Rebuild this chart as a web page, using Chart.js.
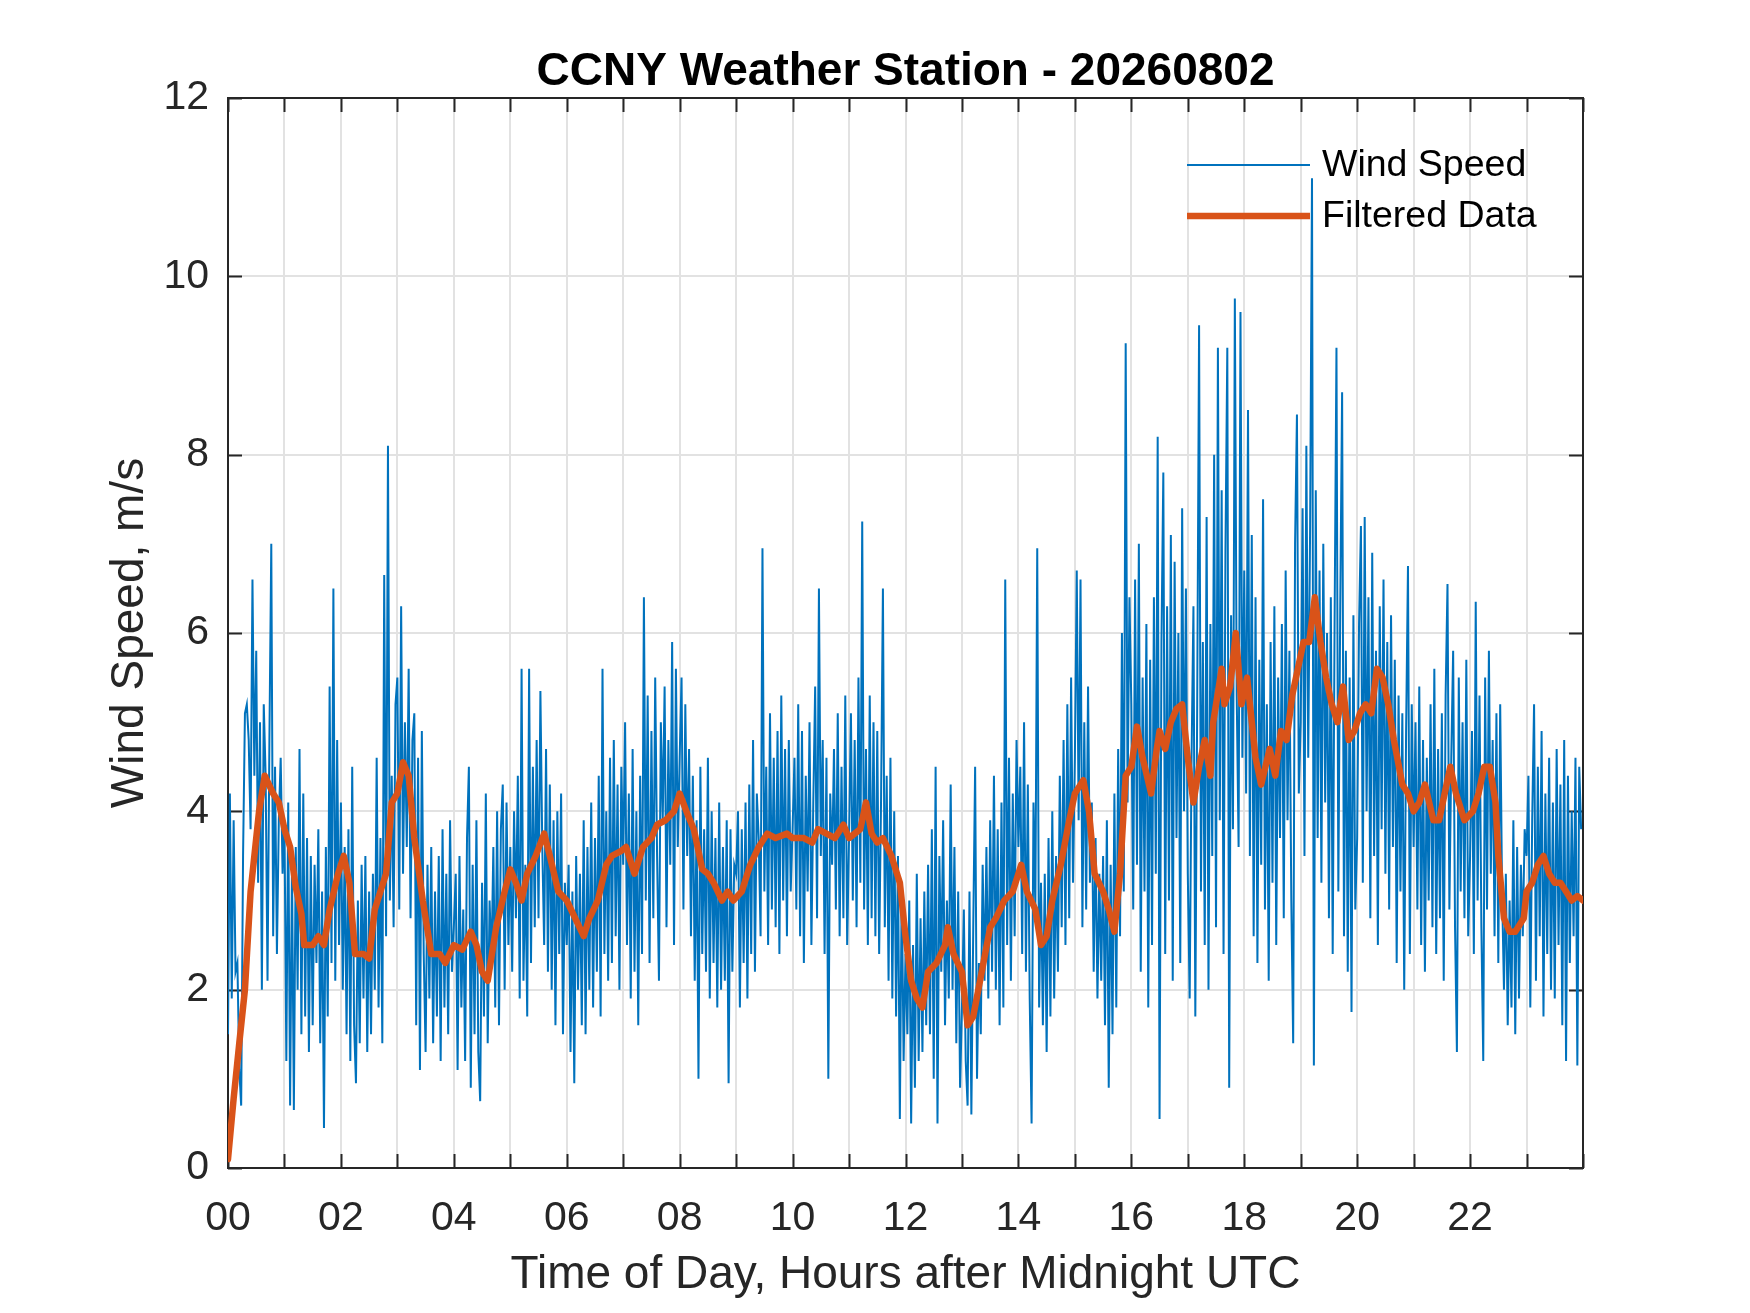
<!DOCTYPE html>
<html>
<head>
<meta charset="utf-8">
<script src="https://cdn.jsdelivr.net/npm/chart.js@4.4.1/dist/chart.umd.min.js"></script>
<style>
  html, body { margin: 0; padding: 0; background: #ffffff; }
  #wrap { width: 1750px; height: 1313px; }
</style>
</head>
<body>
<div id="wrap"><canvas id="c" width="1750" height="1313"></canvas></div>
<script>
// ---------------- DATA ----------------
const chartTitle = "CCNY Weather Station - 20260802";
const xAxisTitle = "Time of Day, Hours after Midnight UTC";
const yAxisTitle = "Wind Speed, m/s";
const seriesNames = ["Wind Speed", "Filtered Data"];
const xTickLabels = ["00","02","04","06","08","10","12","14","16","18","20","22"];
const yTickValues = [0, 2, 4, 6, 8, 10, 12];
const sampleStepMinutes = 2;

// two-minute wind speed samples (m/s), one block (30 samples) per hour
const windSpeed = [
// 00
1.5,4.2,1.9,3.9,2.2,2.3,1.1,0.7,3.5,5.1, 5.2,4.8,3.8,6.6,4.4,5.8,3.2,5.0,2.0,5.2, 4.4,2.1,4.8,7.0,2.6,4.5,2.4,3.9,4.6,3.3,
// 01
3.9,1.2,4.1,0.7,3.4,0.65,3.6,2.0,4.7,1.5, 4.2,1.7,3.7,1.3,3.5,1.6,3.4,2.3,3.8,1.4, 3.1,0.45,3.6,1.7,5.4,2.3,6.5,2.1,4.8,2.5,
// 02
4.1,2.0,3.6,1.5,3.8,1.2,4.5,1.6,0.95,3.0, 1.4,3.4,1.9,3.5,1.3,3.1,1.5,3.3,2.0,4.6, 1.8,3.7,1.4,6.65,2.6,8.1,3.0,4.4,2.7,5.2,
// 03
5.5,2.9,6.3,3.3,5.0,3.6,5.6,2.8,4.8,5.1, 1.6,4.6,1.1,4.9,2.4,1.3,3.4,1.9,3.6,1.4, 3.1,1.7,3.5,1.2,3.8,1.8,3.3,1.5,3.9,2.2,
// 04
2.7,3.3,1.1,3.5,1.8,2.9,1.2,3.7,4.5,0.9, 3.4,1.5,3.9,1.3,0.75,3.2,1.7,4.2,1.4,3.0, 2.3,3.6,1.8,4.0,1.6,3.8,4.3,2.0,4.1,2.5,
// 05
3.6,2.2,4.0,2.8,4.4,1.9,5.6,2.1,3.4,1.7, 5.6,2.3,4.5,2.7,4.8,2.8,5.35,3.6,2.5,4.7, 2.2,4.3,2.0,3.9,1.6,4.0,2.4,4.2,1.5,3.2,
// 06
2.5,3.4,1.3,3.1,0.95,3.5,2.0,3.3,1.6,3.9, 1.5,3.6,2.0,4.1,1.8,3.7,2.2,4.4,1.7,5.6, 2.4,4.0,2.1,4.6,2.3,4.8,2.6,4.3,2.0,4.5,
// 07
3.4,5.0,2.5,4.2,1.9,4.7,2.2,4.0,1.6,4.4, 2.4,6.4,3.0,5.3,2.3,4.9,2.8,5.5,3.5,2.1, 5.0,3.9,5.4,2.7,4.8,3.4,5.9,2.5,5.6,3.6,
// 08
4.6,5.5,2.9,5.2,3.5,4.7,2.6,4.4,2.1,3.9, 1.0,4.5,2.4,3.8,2.2,4.6,1.9,4.0,2.3,3.7, 1.8,4.1,2.0,3.6,2.1,3.9,0.95,3.8,2.2,3.4,
// 09
3.3,4.0,1.8,3.8,2.3,4.1,1.9,4.3,2.4,4.8, 2.2,4.2,3.7,2.6,6.95,3.1,4.5,2.5,5.1,2.9, 4.6,2.7,4.9,2.4,5.3,3.0,4.7,2.6,4.8,3.1,
// 10
3.8,4.6,2.9,5.2,2.6,4.9,2.3,4.4,3.1,5.0, 2.5,4.1,5.4,2.8,6.5,3.5,4.8,2.4,4.6,1.0, 4.2,3.4,4.7,2.9,5.1,2.6,4.5,2.8,5.3,2.5,
// 11
3.7,5.1,3.0,4.8,2.7,5.5,3.2,7.25,2.9,4.7, 2.5,5.3,2.8,5.0,2.6,4.9,2.4,4.1,6.5,2.7, 4.4,2.1,4.6,1.9,4.0,1.7,3.5,0.55,3.2,1.2,
// 12
2.4,1.5,3.0,0.5,2.5,0.9,3.3,1.2,2.8,1.3, 3.1,1.6,3.4,1.5,3.8,1.0,4.5,0.5,3.5,2.2, 3.9,1.6,3.0,1.9,4.3,2.0,3.6,1.4,3.1,0.9,
// 13
1.8,2.9,1.2,0.7,3.1,0.6,2.7,4.5,1.0,2.3, 1.5,3.4,2.1,3.6,1.9,3.9,2.2,4.4,2.0,3.8, 1.6,4.1,1.8,6.6,2.5,4.6,2.1,4.2,2.6,4.8,
// 14
3.6,4.5,2.4,5.0,2.2,4.3,1.9,0.5,4.1,2.9, 6.95,1.8,3.2,1.6,3.3,1.3,3.7,1.7,4.0,1.9, 3.5,2.2,4.4,2.7,4.8,2.5,5.2,2.8,5.5,3.2,
// 15
4.6,6.7,3.9,6.6,2.7,5.0,2.9,5.4,3.2,4.1, 2.2,3.7,1.9,3.3,2.1,3.5,1.6,3.9,0.9,3.4, 1.5,4.2,1.8,4.7,2.6,6.0,3.1,9.25,4.1,6.4,
// 16
5.2,2.9,6.6,3.4,7.0,2.2,5.5,3.1,6.1,1.8, 5.7,2.5,6.4,3.3,8.2,0.55,5.9,7.8,2.4,6.3, 3.0,7.1,2.1,6.8,3.7,6.0,2.3,7.4,4.0,6.5,
// 17
3.3,1.9,4.6,6.3,1.7,5.2,9.45,3.1,5.9,2.5, 7.3,2.0,6.1,3.5,8.0,2.7,9.2,3.9,7.6,2.4, 6.9,9.2,0.9,6.2,3.8,9.75,5.3,3.6,9.6,4.6,
// 18
6.7,4.2,8.5,3.5,7.1,2.6,6.4,2.3,5.7,3.4, 7.5,2.9,5.2,2.1,5.9,3.2,6.3,2.5,5.5,3.7, 6.1,2.8,6.7,3.9,5.8,3.0,1.4,7.0,8.45,4.2,
// 19
5.0,7.4,3.5,8.1,4.6,7.2,11.1,1.15,7.6,3.7, 6.7,3.2,7.0,4.1,6.0,2.8,6.4,2.4,6.1,9.2, 3.1,6.3,8.7,2.6,5.8,2.2,5.5,1.75,6.2,2.9,
// 20
3.7,6.1,7.2,3.2,7.3,4.0,6.4,2.8,6.9,3.5, 5.8,2.5,6.3,3.8,6.6,3.3,5.9,2.9,6.2,3.6, 5.7,2.3,5.3,3.1,5.1,2.0,4.9,6.75,2.4,5.2,
// 21
3.6,5.0,2.9,5.4,2.5,4.8,2.2,4.6,3.0,5.2, 2.7,5.6,2.4,4.7,2.8,5.1,2.1,5.3,6.55,2.9, 4.6,5.8,2.7,1.3,5.5,3.1,5.0,2.8,5.7,2.6,
// 22
3.5,4.9,2.4,6.35,3.0,5.3,2.7,1.2,5.5,2.9, 5.8,3.3,4.8,2.6,5.1,2.3,5.2,3.1,2.0,3.3, 1.6,3.0,1.8,3.9,1.5,3.6,1.9,3.4,2.6,3.8,
// 23
3.5,4.4,1.8,3.9,5.2,2.1,4.5,2.6,4.9,1.7, 4.2,2.4,4.6,2.0,4.1,1.9,4.7,2.5,4.3,1.6, 4.8,1.2,4.4,2.3,4.0,2.6,4.6,1.15,4.5,3.8
];

// filtered (smoothed) series: time in hours and value in m/s
const filteredHours = [
0.00,0.10,0.20,0.30,0.40,0.55,0.65,0.80,0.90,1.00,1.10,1.20,1.30,1.35,1.50,1.60,1.70,1.80,1.95,2.05,
2.15,2.25,2.40,2.50,2.60,2.70,2.80,2.90,3.00,3.10,3.20,3.30,3.45,3.50,3.60,3.75,3.85,4.00,4.15,4.30,
4.40,4.50,4.60,4.75,4.90,5.00,5.10,5.20,5.30,5.45,5.60,5.70,5.85,6.00,6.15,6.30,6.40,6.55,6.70,6.80,
6.95,7.05,7.20,7.35,7.50,7.60,7.75,7.90,8.00,8.15,8.25,8.40,8.50,8.60,8.75,8.85,8.95,9.10,9.25,9.40,
9.55,9.70,9.90,10.00,10.20,10.35,10.45,10.60,10.75,10.90,11.00,11.20,11.30,11.40,11.50,11.60,11.75,11.90,12.00,12.10,
12.20,12.30,12.40,12.55,12.70,12.75,12.85,13.00,13.10,13.20,13.35,13.50,13.60,13.75,13.90,14.05,14.15,14.30,14.40,14.50,
14.60,14.75,14.90,15.00,15.15,15.25,15.35,15.50,15.60,15.70,15.80,15.90,16.00,16.10,16.20,16.35,16.45,16.50,16.60,16.70,
16.80,16.90,17.00,17.10,17.20,17.30,17.40,17.45,17.60,17.65,17.75,17.85,17.95,18.05,18.10,18.20,18.30,18.45,18.55,18.65,
18.75,18.85,18.95,19.05,19.15,19.25,19.35,19.45,19.55,19.65,19.75,19.85,19.95,20.05,20.15,20.25,20.35,20.45,20.55,20.65,
20.80,20.90,21.00,21.10,21.20,21.35,21.45,21.55,21.65,21.75,21.85,21.90,22.05,22.15,22.25,22.35,22.45,22.50,22.60,22.70,
22.80,22.95,23.00,23.10,23.20,23.30,23.40,23.50,23.60,23.70,23.80,23.90,24.00
];
const filteredValues = [
0.10,0.78,1.40,2.00,3.10,4.00,4.40,4.20,4.10,3.80,3.60,3.15,2.85,2.50,2.50,2.60,2.50,2.90,3.30,3.50,
3.20,2.40,2.40,2.35,2.90,3.10,3.30,4.10,4.20,4.55,4.40,3.70,3.00,2.80,2.40,2.40,2.30,2.50,2.45,2.65,
2.50,2.20,2.10,2.70,3.10,3.35,3.20,3.00,3.30,3.50,3.75,3.50,3.10,3.00,2.80,2.60,2.80,3.00,3.40,3.50,
3.55,3.60,3.30,3.60,3.70,3.85,3.90,4.00,4.20,3.95,3.80,3.35,3.30,3.20,3.00,3.10,3.00,3.10,3.40,3.60,
3.75,3.70,3.75,3.70,3.70,3.65,3.80,3.75,3.70,3.85,3.70,3.80,4.10,3.75,3.65,3.70,3.50,3.20,2.60,2.10,
1.90,1.80,2.20,2.30,2.50,2.70,2.40,2.20,1.60,1.70,2.20,2.70,2.80,3.00,3.10,3.40,3.10,2.90,2.50,2.60,
3.00,3.40,3.90,4.20,4.35,4.00,3.30,3.10,2.90,2.65,3.30,4.40,4.50,4.95,4.60,4.20,4.70,4.90,4.70,5.00,
5.15,5.20,4.60,4.10,4.50,4.80,4.40,5.00,5.60,5.20,5.40,6.00,5.20,5.50,5.20,4.60,4.30,4.70,4.40,4.90,
4.80,5.30,5.60,5.90,5.90,6.40,5.90,5.50,5.20,5.00,5.40,4.80,4.90,5.10,5.20,5.10,5.60,5.50,5.20,4.80,
4.30,4.20,4.00,4.10,4.30,3.90,3.90,4.20,4.50,4.20,4.00,3.90,4.00,4.20,4.50,4.50,4.10,3.50,2.80,2.65,
2.65,2.80,3.10,3.20,3.40,3.50,3.30,3.20,3.20,3.10,3.00,3.05,3.00
];

// ---------------- STYLE ----------------
const COLORS = { wind: "#0072BD", filtered: "#D95319", axis: "#262626", grid: "#e2e2e2" };
const FONT = "'Liberation Sans', Arial, Helvetica, sans-serif";

const windPoints = windSpeed.map((v, i) => ({ x: (i * sampleStepMinutes) / 60, y: v }));
const filteredPoints = filteredHours.map((h, i) => ({ x: h, y: filteredValues[i] }));

const matlabAxes = {
  id: "matlabAxes",
  beforeDatasetsDraw(chart) {
    const { ctx, chartArea: a, scales: { x, y } } = chart;
    const tl = 14;
    ctx.save();
    ctx.strokeStyle = COLORS.axis;
    ctx.lineWidth = 2;
    ctx.beginPath();
    for (let h = 0; h <= 24; h++) {
      const px = Math.round(x.getPixelForValue(h)) + 0.5;
      ctx.moveTo(px, a.bottom); ctx.lineTo(px, a.bottom - tl);
      ctx.moveTo(px, a.top); ctx.lineTo(px, a.top + tl);
    }
    yTickValues.forEach(v => {
      const py = Math.round(y.getPixelForValue(v)) + 0.5;
      ctx.moveTo(a.left, py); ctx.lineTo(a.left + tl, py);
      ctx.moveTo(a.right, py); ctx.lineTo(a.right - tl, py);
    });
    ctx.stroke();
    ctx.strokeRect(a.left, a.top, a.right - a.left, a.bottom - a.top);
    ctx.restore();
  },
  afterDraw(chart) {
    const { ctx, chartArea: a } = chart;
    const cx = (a.left + a.right) / 2;
    ctx.save();
    // title
    ctx.fillStyle = "#000000";
    ctx.font = "bold 46px " + FONT;
    ctx.textAlign = "center";
    ctx.textBaseline = "middle";
    ctx.fillText(chartTitle, cx, 72);
    // x title
    ctx.fillStyle = COLORS.axis;
    ctx.font = "46px " + FONT;
    ctx.fillText(xAxisTitle, cx, 1275);
    // y title
    ctx.save();
    ctx.translate(130, (a.top + a.bottom) / 2);
    ctx.rotate(-Math.PI / 2);
    ctx.fillText(yAxisTitle, 0, 0);
    ctx.restore();
    // legend
    const lx0 = 1187, lx1 = 1310, tx = 1322;
    const rows = [
      { y: 165, color: COLORS.wind, w: 2 },
      { y: 216, color: COLORS.filtered, w: 6.5 }
    ];
    rows.forEach((r, i) => {
      ctx.strokeStyle = r.color;
      ctx.lineWidth = r.w;
      ctx.beginPath();
      ctx.moveTo(lx0, r.y); ctx.lineTo(lx1, r.y);
      ctx.stroke();
      ctx.fillStyle = "#000000";
      ctx.font = "37.5px " + FONT;
      ctx.textAlign = "left";
      ctx.textBaseline = "middle";
      ctx.fillText(seriesNames[i], tx, r.y + 1);
    });
    ctx.restore();
  }
};

new Chart(document.getElementById("c"), {
  type: "line",
  data: {
    datasets: [
      { label: seriesNames[0], data: windPoints, borderColor: COLORS.wind, borderWidth: 2,
        pointRadius: 0, tension: 0, fill: false, order: 2 },
      { label: seriesNames[1], data: filteredPoints, borderColor: COLORS.filtered, borderWidth: 6.5,
        pointRadius: 0, tension: 0, fill: false, order: 1, borderJoinStyle: "round", borderCapStyle: "round" }
    ]
  },
  options: {
    responsive: false,
    animation: false,
    devicePixelRatio: 1,
    layout: { padding: { top: 98, right: 167, bottom: 0, left: 0 } },
    plugins: { legend: { display: false }, title: { display: false }, tooltip: { enabled: false } },
    scales: {
      x: {
        type: "linear", min: 0, max: 24,
        afterFit(s) { s.height = 145; },
        border: { display: false },
        grid: { color: COLORS.grid, lineWidth: 2, drawTicks: false },
        ticks: {
          stepSize: 1, autoSkip: false, maxRotation: 0, padding: 26,
          color: COLORS.axis, font: { family: FONT, size: 41 },
          callback: (v) => (v % 2 === 0 && v < 24) ? xTickLabels[v / 2] : ""
        }
      },
      y: {
        min: 0, max: 12,
        afterFit(s) { s.width = 228; },
        border: { display: false },
        grid: { color: COLORS.grid, lineWidth: 2, drawTicks: false },
        ticks: {
          stepSize: 2, padding: 19,
          color: COLORS.axis, font: { family: FONT, size: 41 }
        }
      }
    }
  },
  plugins: [matlabAxes]
});
</script>
</body>
</html>
